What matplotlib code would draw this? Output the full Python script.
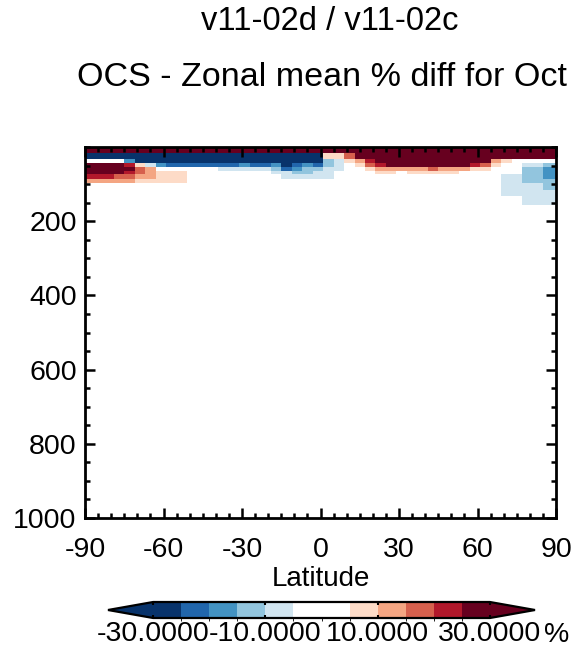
import numpy as np
import matplotlib
matplotlib.use("Agg")
import matplotlib.pyplot as plt
from matplotlib.colors import ListedColormap, BoundaryNorm
from matplotlib.ticker import MultipleLocator
from matplotlib.cm import ScalarMappable

plt.rcParams['font.family'] = ['Liberation Sans', 'DejaVu Sans']
plt.rcParams['axes.unicode_minus'] = False

# ---------------- data ----------------
# latitude cell edges of the model grid (deg)
lat_edges = np.concatenate([[-90], np.arange(-87, 90, 4), [90]])
# pressure edges of the plotted levels (hPa), top to bottom
p_edges = [0, 5, 17, 32, 43, 53, 64, 74, 86, 98, 116, 131, 155]

# % difference per level (rows, top->bottom), per latitude cell (S->N),
# coded by colour class
code_value = {'N': -35.0, 'c': -22.5, 'd': -17.5, 'e': -12.5, 'f': -7.5,
              '.': 0.0, 'F': 7.5, 'E': 12.5, 'D': 17.5, 'C': 22.5, 'R': 35.0}
rows = [
    "RRRRRRRRRRRRRRRRRRRRRRRRRRRRRRRRRRRRRRRRRRRRRR",
    "RRRRRRRRRRRRRRRRRRRRRRRRRRRRRRRRRRRRRRRRRRRRRR",
    "NNNNNNNNNNNNNNNNNNNNNNNFFDRRRRRRRRRRRRRRRRRRRR",
    "....dNNNNNNNNNNNNNNNNNNefFECRRRRRRRRRRREF.....",
    "RRRRCFfdcccccccdccdNcdcef.FDCRRRRRRRRCDF..ffee",
    "RRRRRDE......fffffecdeeff..FEEEEEDEEEFF...eedd",
    "RRRRCDEFFF........ffeeff....FF.FFFFF......eedd",
    "CCCDDEEFFF.........fffff................ffeedd",
    "EEEEEFFFFF..............................ffeeee",
    "........................................ffffee",
    "........................................ffffff",
    "..........................................ffff",
]

levels = [-30, -25, -20, -15, -10, -5, 0, 5, 10, 15, 20, 25, 30]
cbar_ticks = [-30, -10, 10, 30]
bin_colors = ['#08336b', '#2166ac', '#4393c3', '#92c5de', '#d1e5f0', '#ffffff',
              '#ffffff', '#fddbc7', '#f4a582', '#d6604d', '#b2182b', '#67001f']

title1 = "v11-02d / v11-02c"
title2 = "OCS - Zonal mean % diff for Oct"

# ---------------- build ----------------
field = np.array([[code_value[ch] for ch in r] for r in rows])

cmap = ListedColormap(bin_colors)
cmap.set_under('#08336b')
cmap.set_over('#67001f')
norm = BoundaryNorm(levels, cmap.N)

W, H = 586, 655
fig = plt.figure(figsize=(W / 100, H / 100), dpi=100)

def fx(px):
    return px / W

def fy(py):
    return 1 - py / H

ax = fig.add_axes([fx(85), fy(518), fx(556) - fx(85), fy(147) - fy(518)])
ax.pcolormesh(lat_edges, p_edges, field, cmap=cmap, norm=norm, shading='flat')
ax.set_xlim(-90, 90)
ax.set_ylim(1000, 0)
ax.set_xticks([-90, -60, -30, 0, 30, 60, 90])
ax.set_yticks([200, 400, 600, 800, 1000])
ax.xaxis.set_minor_locator(MultipleLocator(5))
ax.yaxis.set_minor_locator(MultipleLocator(50))
ax.tick_params(which='both', direction='in', top=True, right=True, width=1.8, colors='black',
               labelsize=20.5)
ax.tick_params(axis='x', pad=14)
ax.tick_params(axis='y', pad=6)
ax.tick_params(which='major', length=7.5)
ax.tick_params(which='minor', length=3.5)
for s in ax.spines.values():
    s.set_linewidth(2.0)
ax.set_xlabel("Latitude", fontsize=20, labelpad=2)

fig.text(fx(330), fy(22), title1, ha='center', va='center', fontsize=23.5)
fig.text(fx(322), fy(78), title2, ha='center', va='center', fontsize=24.5)

# colorbar (axes spans arrow tip to arrow tip)
cax = fig.add_axes([fx(108), fy(618), fx(535) - fx(108), fy(602) - fy(618)])
sm = ScalarMappable(norm=norm, cmap=cmap)
cb = fig.colorbar(sm, cax=cax, orientation='horizontal', extend='both',
                  extendfrac=0.134, drawedges=False)
cb.set_ticks(cbar_ticks)
cb.set_ticklabels(['%.4f' % t for t in cbar_ticks])
cax.tick_params(direction='in', length=2.5, width=1.5, top=True, bottom=True,
                labelsize=20.5, pad=2)
cb.outline.set_linewidth(1.6)
fig.text(fx(557), fy(635), '%', ha='center', va='center', fontsize=20.5)

fig.savefig('out.png', dpi=100)
